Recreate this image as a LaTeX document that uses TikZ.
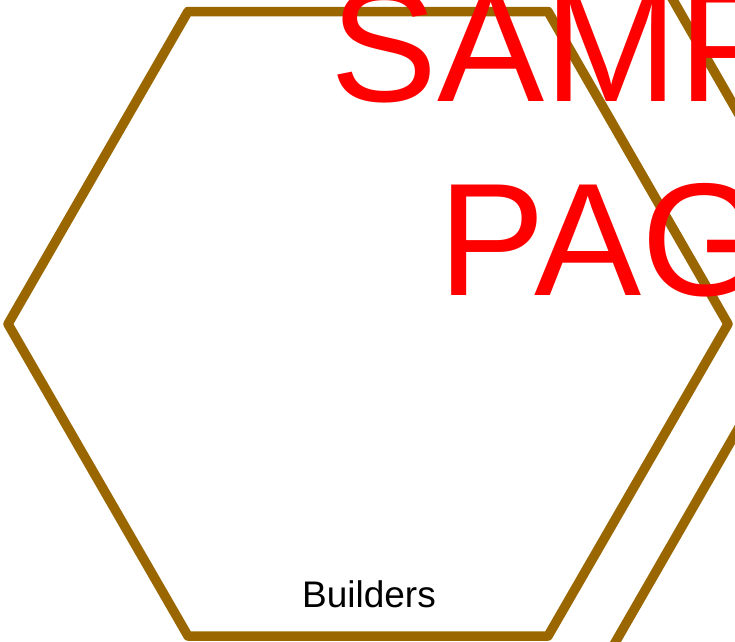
\documentclass[tikz,border=0pt]{standalone}
\usepackage{fontspec}
\setmainfont{Liberation Sans}
\definecolor{hexbrown}{HTML}{996600}
\definecolor{stampred}{HTML}{FF0000}
\tikzset{
  hexline/.style={draw=hexbrown, line width=9.5pt, line join=round},
  stamptext/.style={text=stampred, inner sep=0pt, anchor=base, font=\fontsize{160.6}{190}\selectfont},
  labeltext/.style={text=black, inner sep=0pt, anchor=base, font=\fontsize{37}{42}\selectfont}
}
\begin{document}
\begin{tikzpicture}[x=1pt,y=-1pt]
  \useasboundingbox (0,0) rectangle (735,641);
  \clip (0,0) rectangle (735,641);
  % main hexagon
  \coordinate (hc) at (368,324);
  \coordinate (h1) at (728,324);
  \coordinate (h2) at (548,11.5);
  \coordinate (h3) at (188,11.5);
  \coordinate (h4) at (8,324);
  \coordinate (h5) at (188,636);
  \coordinate (h6) at (548,636);
  \draw[hexline] (h1) -- (h2) -- (h3) -- (h4) -- (h5) -- (h6) -- cycle;
  % partly visible neighbouring shape at the right
  \coordinate (g1) at (661.5,-20);
  \coordinate (g2) at (829,271);
  \coordinate (g3) at (604.5,661);
  \draw[hexline] (g1) -- (g2) -- (g3);
  % texts
  \node[labeltext] (builders) at (369,607) {Builders};
  \node[stamptext] (sample) at (656,101.5) {SAMPLE};
  \node[stamptext] (page) at (656,295) {PAGE};
\end{tikzpicture}
\end{document}
